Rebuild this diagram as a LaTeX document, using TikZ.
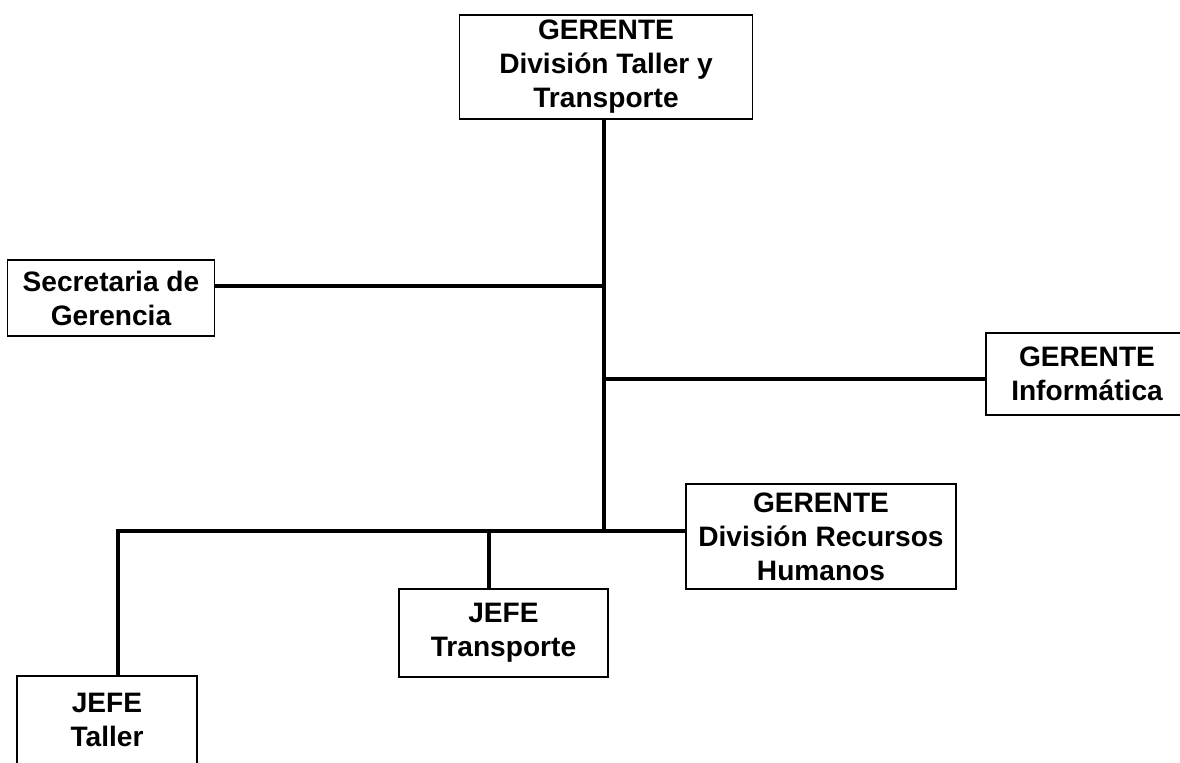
\documentclass[tikz,border=0pt]{standalone}
\usepackage{fontspec}
\setmainfont{Liberation Sans}
\usetikzlibrary{positioning}

\begin{document}
\begin{tikzpicture}[
  x=0.02cm, y=-0.02cm,
  unit/.style={draw, line width=1pt, align=center, inner sep=0pt,
               font=\fontsize{16}{19.3}\selectfont\bfseries},
  ln/.style={line width=1.8pt},
]
\useasboundingbox (0,0) rectangle (1180,762);

% ===================== units =====================
\node[unit, minimum width=5.86cm, minimum height=2.08cm] (Gtt) at (606,67)
  {GERENTE\\División Taller y\\Transporte};
\node[unit, minimum width=4.14cm, minimum height=1.52cm] (Sec) at (111,298)
  {Secretaria de\\Gerencia};
\node[unit, minimum width=4.04cm, minimum height=1.64cm] (Inf) at (1087,374)
  {GERENTE\\Informática};
\node[unit, minimum width=5.4cm, minimum height=2.1cm] (Rrhh) at (821,536.5)
  {GERENTE\\División Recursos\\Humanos};
\node[unit, minimum width=4.18cm, minimum height=1.76cm] (Tra) at (503.5,633)
  {JEFE\\Transporte};
\node[unit, minimum width=3.6cm, minimum height=1.76cm] (Tal) at (107,720)
  {JEFE\\Taller};

% ===================== junctions =====================
\coordinate (jSec) at (604,286);
\coordinate (jInf) at (604,379);
\coordinate (jBus) at (604,531);
\coordinate (jTal) at (118,531);
\coordinate (jTra) at (489,531);

% ===================== lines =====================
\draw[ln] (Gtt.south -| jBus) -- (jBus);
\draw[ln] (Sec.east |- jSec) -- (jSec);
\draw[ln] (jInf) -- (Inf.west |- jInf);
\draw[ln] (Tal.north -| jTal) -- (jTal) -- (Rrhh.west |- jBus);
\draw[ln] (jTra) -- (Tra.north -| jTra);
\end{tikzpicture}
\end{document}
